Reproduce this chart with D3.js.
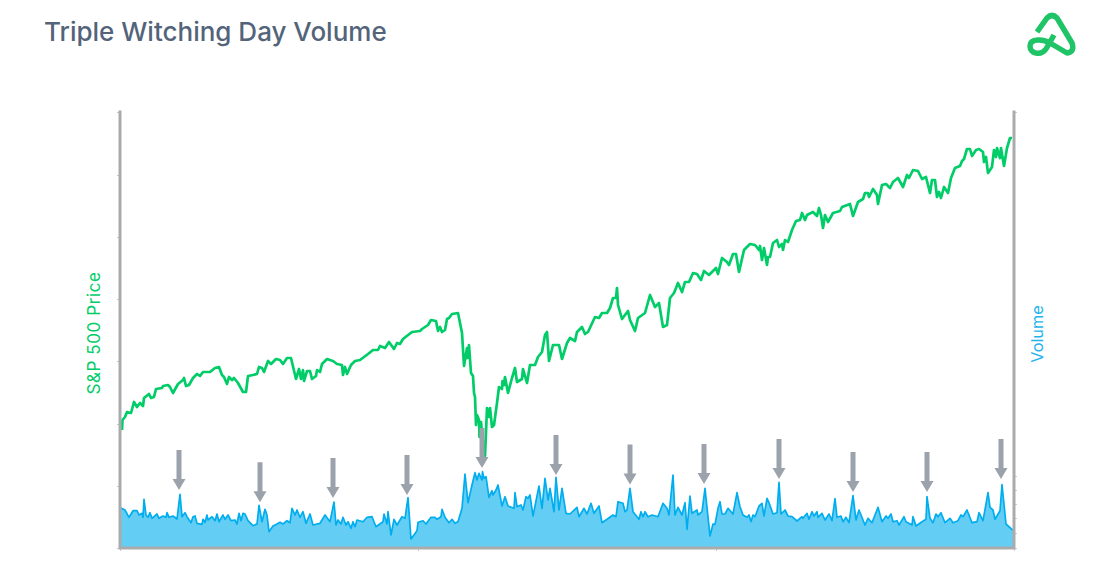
<!DOCTYPE html>
<html>
<head>
<meta charset="utf-8">
<script src="https://cdn.jsdelivr.net/npm/d3@7"></script>
<style>
  html, body { margin: 0; padding: 0; background: #fff; }
  svg { display: block; }
  text { font-family: Inter, "Open Sans", sans-serif; }
</style>
</head>
<body>
<div id="chart"></div>
<script>
// readings, as [session, value]; the axes carry no numbers so units are relative
const priceReadings = [[1,1180],[1.5,1280],[4,1310],[6,1360],[10,1350],[13,1460],[16,1410],[19,1450],[22,1420],[23,1500],[28,1540],[30,1500],[33,1510],[35,1590],[41,1600],[42,1620],[47,1630],[49,1610],[52,1550],[57,1640],[62,1680],[63,1700],[65,1620],[68,1630],[72,1700],[76,1740],[79,1720],[82,1760],[89,1760],[94,1800],[98,1810],[101,1730],[103,1710],[106,1640],[108,1710],[111,1680],[113,1700],[117,1650],[122,1560],[125,1560],[127,1720],[132,1730],[136,1740],[138,1810],[141,1800],[143,1760],[147,1870],[150,1840],[155,1890],[159,1880],[162,1840],[166,1900],[170,1900],[175,1690],[178,1790],[180,1690],[182,1780],[183,1670],[186,1770],[189,1770],[191,1690],[195,1720],[196,1780],[199,1760],[201,1840],[206,1890],[212,1870],[216,1840],[221,1830],[222,1730],[224,1810],[226,1740],[230,1830],[234,1870],[239,1880],[247,1940],[252,1980],[257,1980],[259,2020],[264,2000],[268,2060],[273,1990],[276,2050],[279,2040],[282,2090],[291,2160],[299,2170],[301,2190],[307,2230],[310,2280],[315,2270],[317,2170],[319,2210],[321,2160],[324,2180],[326,2290],[328,2300],[331,2340],[337,2350],[341,2150],[343,1820],[346,2000],[346.5,1900],[348,2030],[350,1750],[352,1720],[353,1550],[354,1510],[355,1230],[356,1330],[358,1280],[358.5,1110],[360,1260],[362,1050],[364,920],[366,1400],[368,1310],[369,1400],[371,1210],[373,1230],[376,1450],[378,1610],[381,1590],[381.5,1670],[383,1630],[384,1710],[387,1550],[391,1700],[394,1800],[396,1660],[401,1690],[402,1790],[406,1650],[409,1830],[414,1830],[417,1910],[421,1960],[424,2130],[426,2160],[428,1870],[432,2030],[438,2030],[441,1890],[446,2050],[449,2100],[454,2070],[456,2160],[461,2210],[464,2140],[467,2160],[474,2310],[478,2300],[481,2350],[486,2350],[489,2400],[492,2500],[495,2500],[496,2600],[497,2430],[501,2290],[507,2370],[509,2280],[514,2170],[517,2300],[524,2350],[529,2530],[534,2410],[538,2450],[542,2210],[546,2230],[549,2500],[553,2550],[557,2650],[561,2560],[564,2660],[568,2660],[572,2750],[576,2740],[580,2680],[583,2770],[588,2730],[595,2800],[597,2740],[601,2900],[606,2860],[608,2830],[612,2940],[615,2940],[618,2760],[623,2980],[629,3040],[634,3030],[638,2980],[639,3020],[641,2880],[643,3000],[646,2830],[647,2910],[649,2910],[652,3050],[656,3080],[658,3010],[661,3040],[662,2980],[664,3080],[667,3060],[671,3180],[675,3270],[679,3280],[681,3350],[684,3280],[686,3330],[692,3360],[696,3320],[698,3400],[700,3330],[702,3200],[704,3330],[707,3260],[712,3350],[719,3370],[721,3410],[729,3440],[732,3320],[737,3460],[742,3490],[744,3550],[747,3550],[748,3510],[752,3590],[756,3530],[757,3440],[761,3630],[765,3640],[769,3600],[772,3660],[777,3700],[782,3610],[786,3730],[788,3700],[792,3780],[797,3770],[801,3690],[805,3710],[809,3550],[811,3680],[814,3680],[816,3510],[818,3560],[820,3500],[823,3610],[827,3550],[830,3700],[834,3800],[839,3820],[841,3870],[843,3890],[846,3990],[849,3990],[851,3920],[855,3980],[858,3990],[862,3960],[863,3860],[865,3910],[867,3750],[871,3810],[873,3980],[875,3910],[876,4000],[879,3900],[880,4000],[883,3820],[886,4000],[889,4100],[891,4100]];

const volumeReadings = [[0,400],[4,380],[8,307],[12,373],[16,373],[18,330],[21,347],[22,307],[23,487],[25,330],[27,307],[29,353],[31,297],[36,340],[38,297],[42,320],[45,307],[46,353],[48,307],[52,320],[56,290],[59,537],[61,313],[64,353],[66,313],[70,253],[72,313],[74,320],[76,247],[81,237],[82,287],[84,257],[86,330],[87,280],[91,313],[94,273],[96,340],[98,263],[102,330],[104,287],[107,330],[110,273],[114,280],[116,240],[118,347],[120,273],[122,347],[124,340],[127,273],[132,223],[136,240],[138,427],[141,263],[144,387],[146,330],[148,163],[152,220],[156,240],[159,257],[162,240],[166,273],[169,253],[171,397],[174,330],[176,380],[179,307],[182,363],[185,247],[189,340],[192,230],[199,247],[204,330],[209,263],[213,460],[215,230],[217,280],[220,240],[222,307],[225,230],[227,263],[230,197],[232,263],[234,213],[236,280],[242,263],[246,307],[251,313],[255,213],[262,263],[263,340],[266,240],[267,363],[270,130],[273,287],[276,230],[281,313],[284,297],[287,503],[290,90],[296,173],[297,257],[302,273],[305,240],[310,307],[314,307],[316,287],[320,313],[321,387],[324,307],[328,253],[331,287],[334,247],[337,263],[341,397],[344,740],[347,453],[351,630],[354,753],[356,680],[358,747],[361,680],[361.5,763],[363,697],[365,713],[368,507],[371,573],[372,530],[375,580],[377,630],[381,420],[384,513],[387,420],[393,397],[394,553],[396,413],[400,430],[402,380],[405,513],[407,497],[409,530],[412,320],[418,620],[421,397],[424,697],[427,480],[429,597],[433,363],[435,707],[438,380],[441,597],[445,347],[449,340],[456,407],[458,313],[463,397],[466,340],[470,447],[473,347],[478,420],[481,253],[486,287],[492,330],[495,313],[497,463],[502,447],[504,363],[506,380],[509,597],[512,363],[518,287],[520,363],[522,313],[524,363],[527,313],[531,330],[537,313],[542,447],[546,397],[548,330],[552,730],[554,330],[557,407],[561,330],[564,453],[566,187],[569,520],[571,347],[576,380],[577,330],[581,363],[584,597],[589,120],[592,240],[594,237],[597,397],[599,463],[601,340],[604,340],[607,397],[612,340],[616,553],[619,413],[622,330],[626,307],[628,330],[630,263],[632,330],[634,313],[638,420],[641,447],[643,320],[646,497],[648,453],[652,340],[656,353],[658,657],[660,340],[664,380],[667,320],[671,313],[676,270],[681,313],[682,297],[686,347],[688,287],[691,363],[693,320],[696,363],[697,307],[701,347],[704,280],[708,340],[711,273],[714,493],[716,307],[720,320],[722,263],[725,307],[728,253],[732,523],[735,280],[738,380],[744,230],[747,297],[751,253],[757,407],[761,263],[765,320],[767,297],[770,340],[772,263],[776,273],[778,230],[783,313],[785,263],[791,230],[792,313],[795,220],[801,263],[805,287],[806,513],[809,297],[812,253],[815,340],[817,313],[820,353],[824,253],[829,297],[832,253],[837,273],[840,330],[842,313],[846,380],[851,253],[856,263],[858,353],[862,273],[867,553],[869,407],[872,380],[874,287],[879,373],[881,633],[885,240],[892,177]];

// triple witching days: where each arrow points and how high its tip sits
const arrowSessions = [58,139,212,286,361,435,509,583,658,732,806,880];
const arrowTips = [580,458,500,530,800,730,635,640,690,560,560,690];

const priceTicks = [0,620,1240,1870,2490,3110,3730,4360];
const volumeTicks = [0,150,300,440,580,720,4360];
const sessionTicks = [-1,297,595,893];

const titleText = "Triple Witching Day Volume";

const width = 1098, height = 568;
const margin = { top: 112, right: 84, bottom: 20, left: 120 };

const greyAxis = "#a9abad", greyArrow = "#9ca2ac";
const greenLine = "#00cd68", blueLine = "#00aeef", blueFill = "#63cdf3";

const svg = d3.select("#chart").append("svg")
  .attr("width", width)
  .attr("height", height);

const x = d3.scaleLinear().domain([-1, 893]).range([margin.left, width - margin.right]);
const yPrice = d3.scaleLinear().domain([0, 4360]).range([height - margin.bottom, margin.top]);
const yVolume = d3.scaleLinear().domain([0, 4360]).range([height - margin.bottom, margin.top]);

// volume first, price sits on top of it
svg.append("path")
  .datum(volumeReadings)
  .attr("fill", blueFill)
  .attr("d", d3.area().x(d => x(d[0])).y0(yVolume(0)).y1(d => yVolume(d[1])));

svg.append("path")
  .datum(volumeReadings)
  .attr("fill", "none")
  .attr("stroke", blueLine)
  .attr("stroke-width", 1.7)
  .attr("stroke-linejoin", "round")
  .attr("d", d3.line().x(d => x(d[0])).y(d => yVolume(d[1])));

svg.append("path")
  .datum(priceReadings)
  .attr("fill", "none")
  .attr("stroke", greenLine)
  .attr("stroke-width", 2.7)
  .attr("stroke-linejoin", "round")
  .attr("d", d3.line().x(d => x(d[0])).y(d => yPrice(d[1])));

// arrows
const arrowLen = 40, stemW = 5, headW = 13, headH = 11;
const arrows = svg.append("g").selectAll("path")
  .data(arrowSessions)
  .enter()
  .append("path")
  .attr("fill", greyArrow)
  .attr("transform", (d, i) => `translate(${x(d)},${yVolume(arrowTips[i])})`)
  .attr("d", `M0,0L${-headW/2},${-headH}H${-stemW/2}V${-arrowLen}H${stemW/2}V${-headH}H${headW/2}Z`);

// axes
function styleAxis(g) {
  g.select(".domain").remove();
  g.selectAll("line").attr("stroke", "#c9c9c9").attr("stroke-width", 1);
}

svg.append("g")
  .attr("transform", `translate(${margin.left},0)`)
  .call(d3.axisLeft(yPrice).tickValues(priceTicks).tickSize(3).tickFormat(""))
  .call(styleAxis);

svg.append("g")
  .attr("transform", `translate(${width - margin.right},0)`)
  .call(d3.axisRight(yVolume).tickValues(volumeTicks).tickSize(3).tickFormat(""))
  .call(styleAxis);

svg.append("g")
  .attr("transform", `translate(0,${height - margin.bottom})`)
  .call(d3.axisBottom(x).tickValues(sessionTicks).tickSize(3).tickFormat(""))
  .call(styleAxis);

// spines
svg.append("path")
  .attr("fill", "none")
  .attr("stroke", greyAxis)
  .attr("stroke-width", 3)
  .attr("d", `M${margin.left},${margin.top - 1.5}V${height - margin.bottom}H${width - margin.right}V${margin.top - 1.5}`);

// texts
svg.append("text")
  .attr("x", 44)
  .attr("y", 41)
  .attr("fill", "#53647a")
  .attr("font-size", 26)
  .attr("font-weight", 500)
  .text(titleText);

svg.append("text")
  .attr("transform", "translate(100,333) rotate(-90)")
  .attr("text-anchor", "middle")
  .attr("fill", greenLine)
  .attr("font-size", 17)
  .attr("letter-spacing", 0.6)
  .text("S&P 500 Price");

svg.append("text")
  .attr("transform", "translate(1043,334) rotate(-90)")
  .attr("text-anchor", "middle")
  .attr("fill", "#1fb4ee")
  .attr("font-size", 16.3)
  .text("Volume");

// logo
svg.append("path")
  .attr("fill", "none")
  .attr("stroke", "#1fc467")
  .attr("stroke-width", 5.5)
  .attr("stroke-linecap", "butt")
  .attr("stroke-linejoin", "round")
  .attr("d", "M1037,32L1047,18Q1052,13 1057,18L1072,43Q1075,52 1067,53L1050,43C1044,39 1030,38 1030,46C1030,54 1041,56 1046,49L1054,35");
</script>
</body>
</html>
